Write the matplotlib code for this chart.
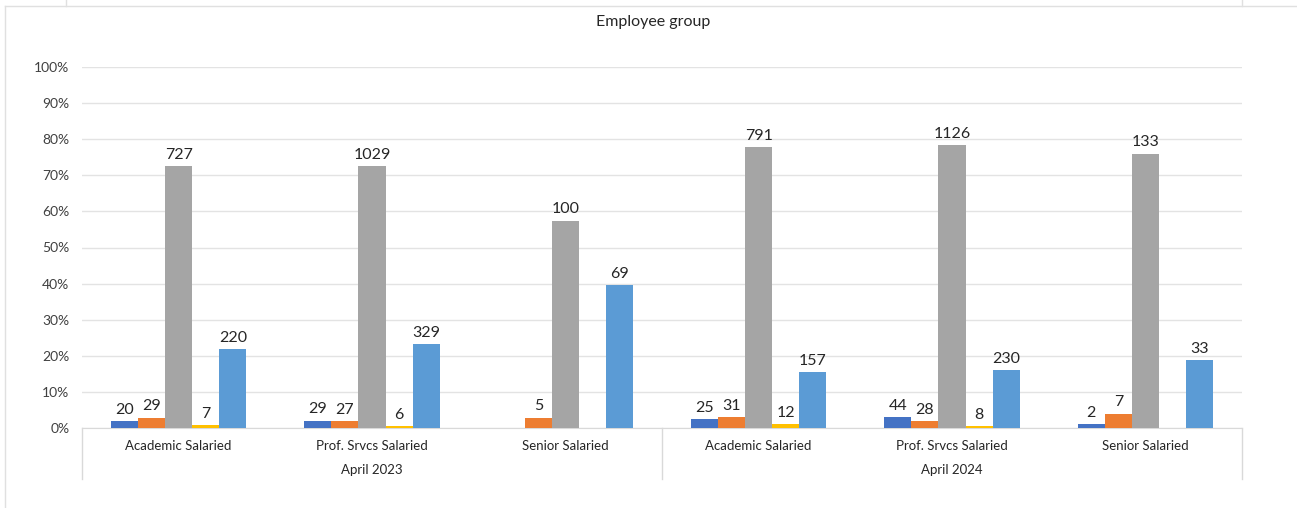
import matplotlib
matplotlib.use("Agg")
import matplotlib.pyplot as plt
from matplotlib.lines import Line2D
import matplotlib.transforms as mtransforms
import numpy as np

plt.rcParams['font.family'] = ['Lato', 'DejaVu Sans']

periods = ["April 2023", "April 2024"]
groups = ["Academic Salaried", "Prof. Srvcs Salaried", "Senior Salaried"]

# headcounts per series, one entry per (period, group) column
series_a = [20, 29, 0, 25, 44, 2]
series_b = [29, 27, 5, 31, 28, 7]
series_c = [727, 1029, 100, 791, 1126, 133]
series_d = [7, 6, 0, 12, 8, 0]
series_e = [220, 329, 69, 157, 230, 33]

series = [series_a, series_b, series_c, series_d, series_e]
colors = ["#4472C4", "#ED7D31", "#A5A5A5", "#FFC000", "#5B9BD5"]

W, H = 1297, 508
fig = plt.figure(figsize=(W / 100, H / 100), dpi=100)
ax = fig.add_axes([82 / W, 80 / H, (1242 - 82) / W, 361 / H])

counts = np.array(series, dtype=float)
totals = counts.sum(axis=0)
shares = counts / totals

n_cols = counts.shape[1]
bar_w = 0.14
centers = np.arange(n_cols) + 0.5
for k, (vals, col) in enumerate(zip(shares, colors)):
    xs = centers + (k - 2) * bar_w
    ax.bar(xs, vals, width=bar_w, color=col, zorder=3)
    for x, v, c in zip(xs, vals, counts[k]):
        if c > 0:
            ax.annotate(f"{int(c)}", (x, v), xytext=(0, 3),
                        textcoords="offset points", ha="center", va="bottom",
                        fontsize=11.5, color="#262626")

ax.set_xlim(0, n_cols)
ax.set_ylim(0, 1.0)
ax.set_yticks(np.arange(0, 1.01, 0.1))
ax.set_yticklabels([f"{int(round(t * 100))}%" for t in np.arange(0, 1.01, 0.1)])
ax.tick_params(axis="y", length=0, pad=9, labelsize=10, labelcolor="#404040")
ax.set_xticks([])
ax.grid(axis="y", color="#E3E3E3", linewidth=1, zorder=0)
for s in ["top", "right", "left"]:
    ax.spines[s].set_visible(False)
ax.spines["bottom"].set_color("#D9D9D9")

# two-level category axis
trans = mtransforms.blended_transform_factory(ax.transData, ax.transAxes)
labels = [g for _ in periods for g in groups]
for x, lab in zip(centers, labels):
    ax.text(x, -0.05, lab, transform=trans, ha="center", va="center",
            fontsize=9.5, color="#262626")
for i, p in enumerate(periods):
    ax.text(len(groups) * i + len(groups) / 2, -0.117, p, transform=trans,
            ha="center", va="center", fontsize=9.5, color="#262626")
for xb in [0, len(groups), 2 * len(groups)]:
    ax.add_line(Line2D([xb, xb], [0, -0.14], transform=trans, color="#D9D9D9",
                       linewidth=1, clip_on=False))

fig.text(653 / W, 1 - 22 / H, "Employee group", ha="center", va="center",
         fontsize=11.5, color="#262626")

# chart frame edges
fig.add_artist(Line2D([5 / W, 5 / W], [0, 1 - 6 / H], transform=fig.transFigure,
                      color="#E0E0E0", linewidth=1))
fig.add_artist(Line2D([5 / W, 1], [1 - 6 / H, 1 - 6 / H], transform=fig.transFigure,
                      color="#E0E0E0", linewidth=1))
for xv in [66, 1242]:
    fig.add_artist(Line2D([xv / W, xv / W], [1 - 6 / H, 1], transform=fig.transFigure,
                          color="#E0E0E0", linewidth=1))

fig.savefig("out.png", dpi=100, facecolor="white")
